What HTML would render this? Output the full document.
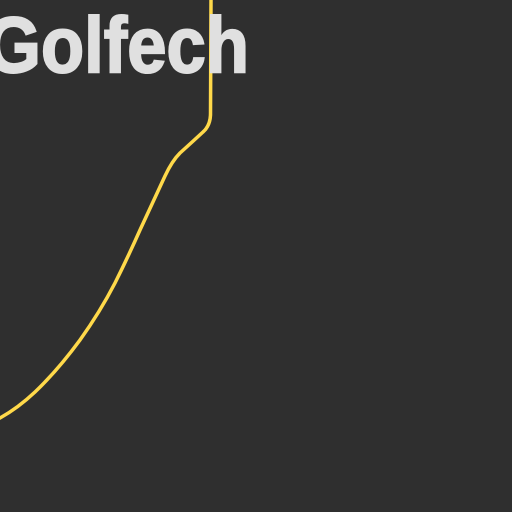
<!DOCTYPE html>
<html><head><meta charset="utf-8"><style>
html,body{margin:0;padding:0;background:#2f2f2f;}
svg{display:block}
.lbl{font-family:"Liberation Sans","DejaVu Sans",sans-serif;font-weight:700;font-size:79px;fill:#e0e0e0;stroke:#e0e0e0;stroke-width:2;}
</style></head><body>
<svg width="512" height="512" viewBox="0 0 512 512">
<rect x="0" y="0" width="512" height="512" fill="#2f2f2f"/>
<path d="M211,0 L210.5,115 Q210,126 203,132 Q190,144 180,153 Q172,161 165,176 L140,230 Q128,257 115,283 Q100,312 80,340 Q58,370 35,392 Q18,408 0,418" fill="none" stroke="#ffd94a" stroke-width="3.5" stroke-linejoin="round" stroke-linecap="round"/>
<text class="lbl" x="-14" y="72" textLength="263" lengthAdjust="spacingAndGlyphs">Golfech</text>
</svg>
</body></html>
